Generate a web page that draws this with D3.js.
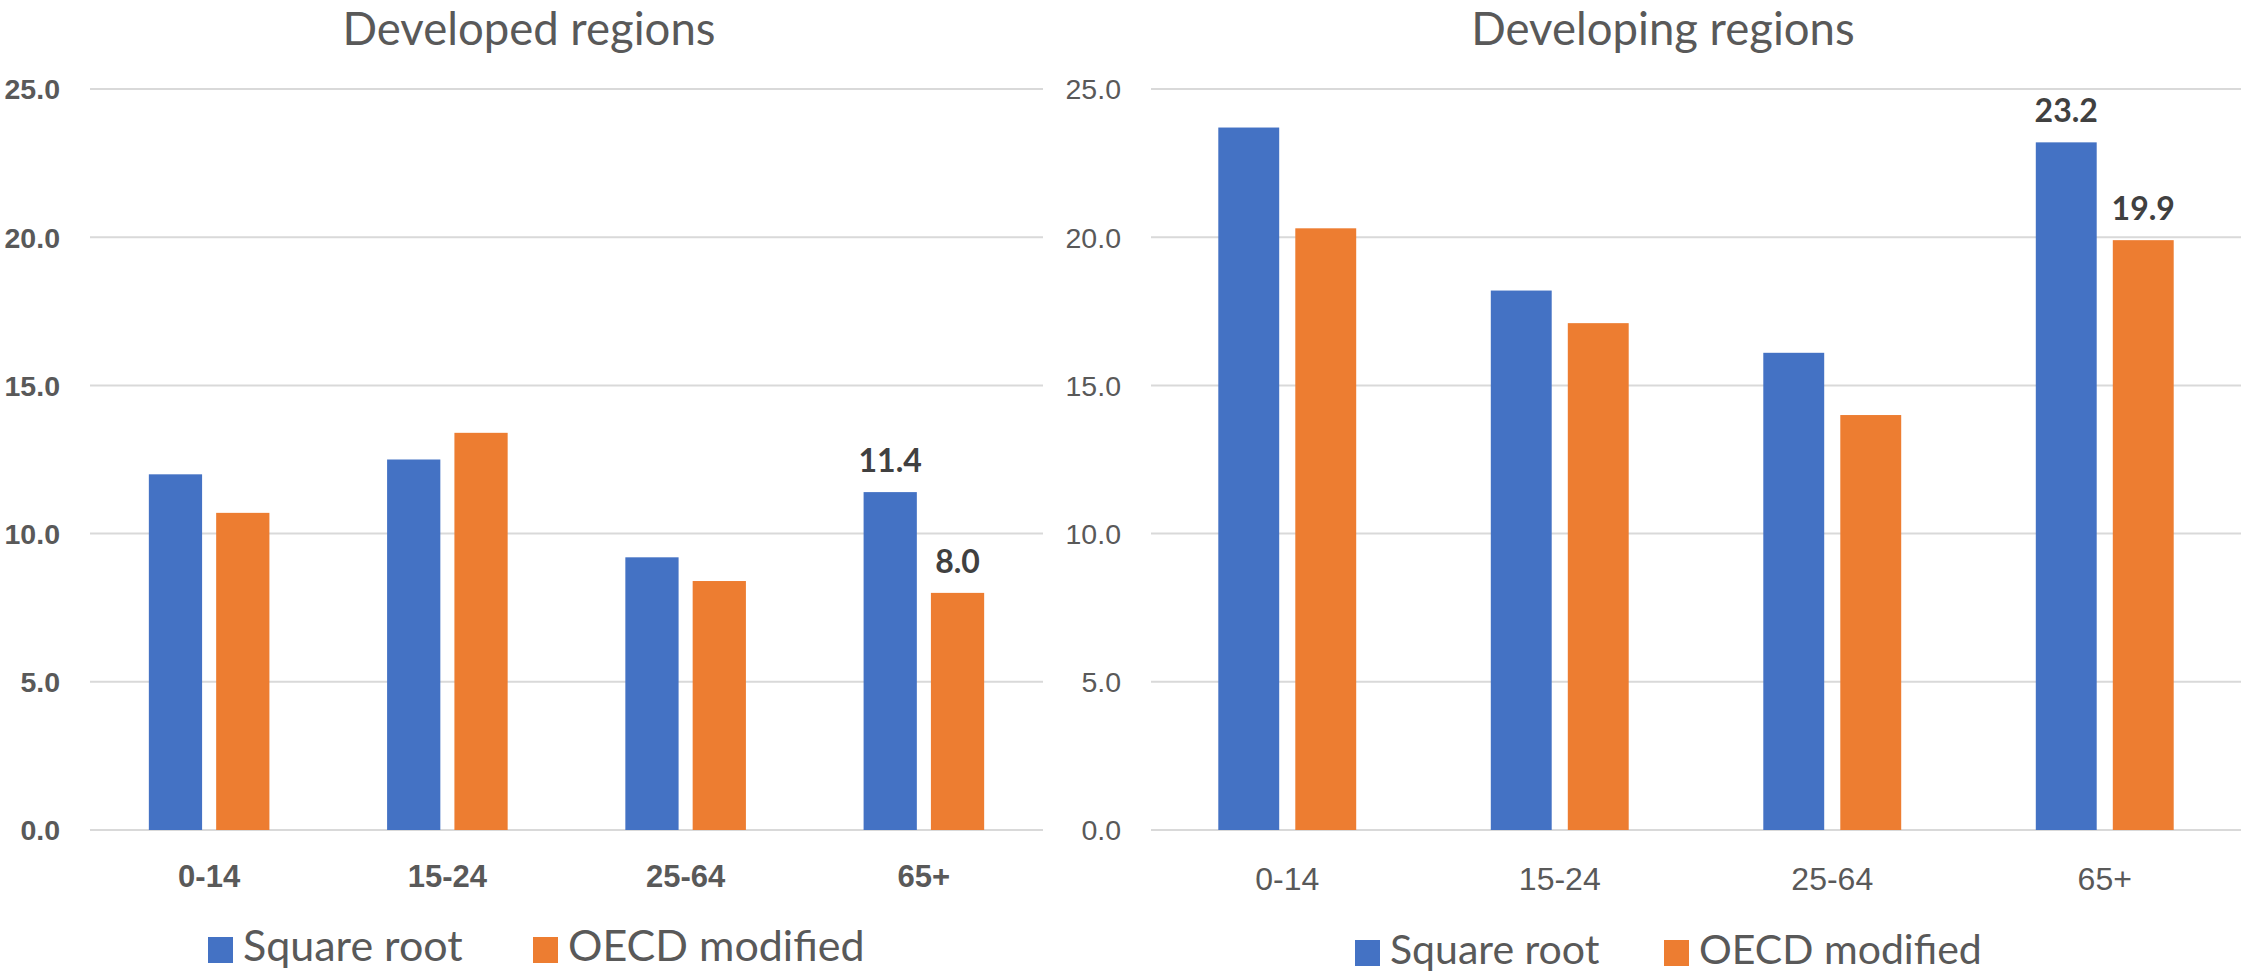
<!DOCTYPE html>
<html>
<head>
<meta charset="utf-8">
<script src="https://cdn.jsdelivr.net/npm/d3@7"></script>
<style>
  html, body { margin: 0; padding: 0; background: #fff; }
  svg { display: block; font-family: Lato, "Open Sans", sans-serif; }
</style>
</head>
<body>
<svg id="chart" width="2241" height="973"></svg>
<script>
// Age groups and the two equivalence-scale series
const categories = ["0-14", "15-24", "25-64", "65+"];
const seriesNames = ["Square root", "OECD modified"];
const developedSquareRoot = [12.0, 12.5, 9.2, 11.4];
const developedOecd = [10.7, 13.4, 8.4, 8.0];
const developingSquareRoot = [23.7, 18.2, 16.1, 23.2];
const developingOecd = [20.3, 17.1, 14.0, 19.9];
const yTicks = [0, 5, 10, 15, 20, 25];
// Only the oldest group carries value labels
const labelledCategory = "65+";

const colors = { "Square root": "#4472C4", "OECD modified": "#ED7D31" };

const svg = d3.select("#chart");

function panel(opts) {
  const g = svg.append("g");
  const rows = categories.map((c, i) => ({
    cat: c,
    vals: [
      { key: seriesNames[0], value: opts.a[i] },
      { key: seriesNames[1], value: opts.b[i] }
    ]
  }));

  const y = d3.scaleLinear().domain([0, 25]).range([830, 89]);
  const x0 = d3.scaleBand().domain(categories).range([opts.left, opts.right]).padding(0);
  const x1 = d3.scaleBand().domain(seriesNames).range([0, x0.bandwidth()])
    .paddingInner(0.209).paddingOuter(0.874);

  // Gridlines
  g.append("g").selectAll("line").data(yTicks).join("line")
    .attr("x1", opts.left).attr("x2", opts.right)
    .attr("y1", d => y(d)).attr("y2", d => y(d))
    .attr("stroke", "#D9D9D9").attr("stroke-width", 2);

  // Value axis labels
  const yAxis = d3.axisLeft(y).tickValues(yTicks).tickFormat(d3.format(".1f")).tickSize(0).tickPadding(0);
  const ya = g.append("g").attr("transform", `translate(${opts.tickX},0)`).call(yAxis);
  ya.select(".domain").remove();
  ya.selectAll("text")
    .attr("fill", "#595959")
    .style("font-size", opts.tickSize + "px")
    .style("font-weight", opts.bold ? "700" : "400")
    .attr("dy", "0.35em");

  // Bars
  const groups = g.append("g").selectAll("g").data(rows).join("g")
    .attr("transform", d => `translate(${x0(d.cat)},0)`);
  groups.selectAll("rect").data(d => d.vals).join("rect")
    .attr("x", d => x1(d.key))
    .attr("width", x1.bandwidth())
    .attr("y", d => y(d.value))
    .attr("height", d => y(0) - y(d.value))
    .attr("fill", d => colors[d.key]);

  // Value labels
  groups.filter(d => d.cat === labelledCategory).selectAll("text.val").data(d => d.vals).join("text")
    .attr("class", "val")
    .attr("x", d => x1(d.key) + x1.bandwidth() / 2)
    .attr("y", d => y(d.value) - 20)
    .attr("text-anchor", "middle")
    .attr("fill", "#404040")
    .style("font-size", opts.valSize + "px")
    .style("font-weight", "700")
    .text(d => d3.format(".1f")(d.value));

  // Category axis
  const xAxis = d3.axisBottom(x0).tickSize(0).tickPadding(0);
  const xa = g.append("g").attr("transform", `translate(0,${opts.catY})`).call(xAxis);
  xa.select(".domain").remove();
  xa.selectAll("text")
    .attr("fill", "#595959")
    .attr("dy", 0)
    .attr("y", 0)
    .style("font-size", opts.catSize + "px")
    .style("font-weight", opts.bold ? "700" : "400");

  // Title
  g.append("text")
    .attr("x", opts.titleX).attr("y", 45)
    .attr("text-anchor", "middle")
    .attr("fill", "#595959")
    .style("font-size", opts.titleSize + "px")
    .text(opts.title);

  // Legend
  const leg = g.append("g");
  seriesNames.forEach((s, i) => {
    const lx = opts.legendX[i];
    leg.append("rect")
      .attr("x", lx).attr("y", opts.legendY - 24)
      .attr("width", 25).attr("height", 26)
      .attr("fill", colors[s]);
    leg.append("text")
      .attr("x", lx + 35).attr("y", opts.legendY)
      .attr("fill", "#595959")
      .style("font-size", opts.legendSize + "px")
      .text(s);
  });
}

panel({
  title: "Developed regions", titleX: 529, titleSize: 45.5,
  a: developedSquareRoot, b: developedOecd,
  left: 90, right: 1043, tickX: 60, tickSize: 28.5, bold: true,
  catY: 887, catSize: 31, valSize: 32,
  legendX: [208, 533], legendY: 961, legendSize: 43
});

panel({
  title: "Developing regions", titleX: 1663, titleSize: 45.5,
  a: developingSquareRoot, b: developingOecd,
  left: 1151, right: 2241, tickX: 1121, tickSize: 28.5, bold: false,
  catY: 890, catSize: 32, valSize: 32,
  legendX: [1355, 1664], legendY: 964, legendSize: 41
});
</script>
</body>
</html>
